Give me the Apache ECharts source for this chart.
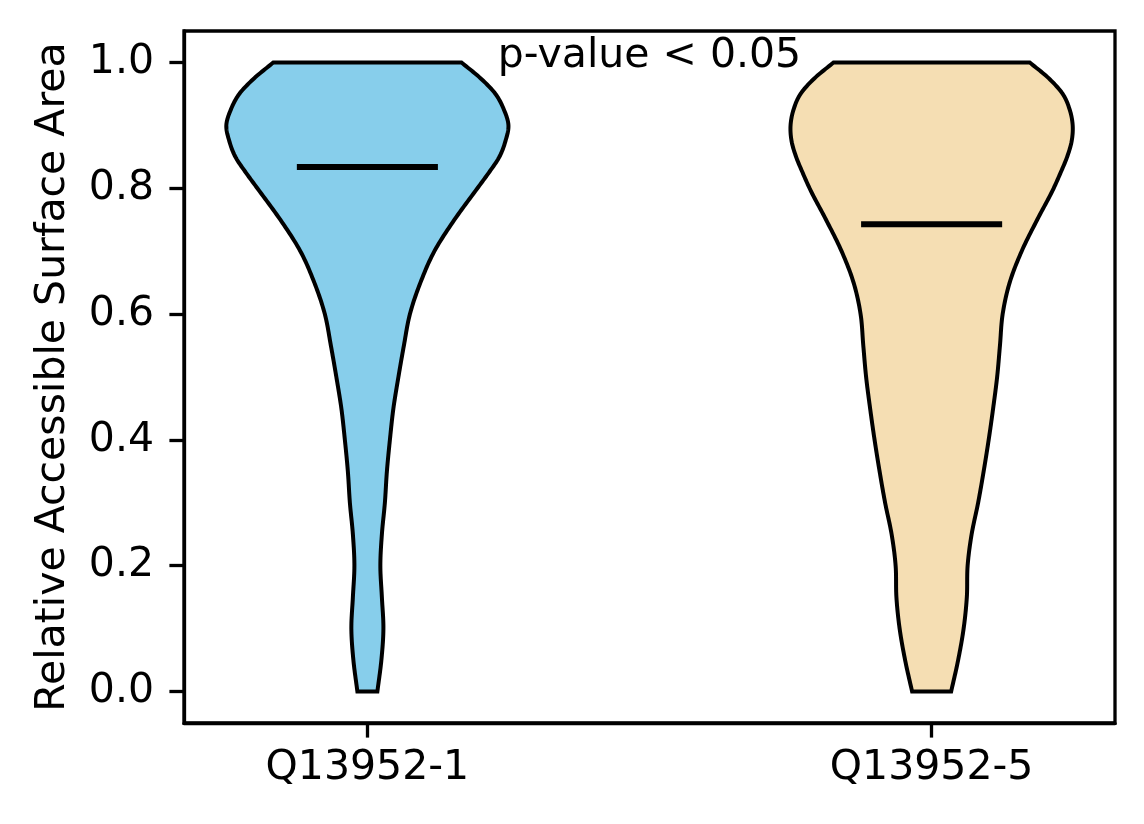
<!DOCTYPE html>
<html>
<head>
<meta charset="utf-8">
<script src="https://cdn.jsdelivr.net/npm/echarts@6/dist/echarts.min.js"></script>
<style>
  html, body { margin: 0; padding: 0; background: #ffffff; }
  #chart { width: 1144px; height: 824px; }
</style>
</head>
<body>
<div id="chart"></div>
<script>
// ---- data ----
const categories = ['Q13952-1', 'Q13952-5'];
const positions = [1, 2];
const yLevels = [0, 0.05, 0.1, 0.15, 0.2, 0.25, 0.3, 0.35, 0.4, 0.45, 0.5, 0.55, 0.6, 0.65,
                 0.7, 0.75, 0.8, 0.825, 0.85, 0.875, 0.9, 0.925, 0.95, 0.975, 1.0];
// half-widths of the violin (x-axis units) at each y level
const halfWidthQ1 = [0.0177, 0.0248, 0.0284, 0.0257, 0.0230, 0.0257, 0.0310, 0.0346, 0.0399,
                     0.0461, 0.0550, 0.0647, 0.0754, 0.0940, 0.1188, 0.1543, 0.1950, 0.2154,
                     0.2340, 0.2447, 0.2500, 0.2420, 0.2270, 0.2004, 0.1667];
const halfWidthQ5 = [0.0346, 0.0470, 0.0567, 0.0624, 0.0638, 0.0709, 0.0824, 0.0922, 0.1011,
                     0.1090, 0.1161, 0.1211, 0.1259, 0.1383, 0.1596, 0.1871, 0.2163, 0.2287,
                     0.2402, 0.2482, 0.2500, 0.2447, 0.2323, 0.2074, 0.1738];
const medians = [0.834, 0.743];
const yTicks = [0, 0.2, 0.4, 0.6, 0.8, 1.0];
const annotationText = 'p-value < 0.05';
const annotationPos = [1.5, 1.0];

const halfWidths = [halfWidthQ1, halfWidthQ5];
const fillColors = ['#87CEEB', '#F5DEB3'];
const FONT = 'DejaVu Sans';

// smooth outline: cubic Hermite of width as a function of y (rendering only)
function smoothProfile(ys, ws, seg) {
  const n = ys.length;
  const m = ws.map((w, k) => {
    if (k === 0) return (ws[1] - ws[0]) / (ys[1] - ys[0]);
    if (k === n - 1) return (ws[n - 1] - ws[n - 2]) / (ys[n - 1] - ys[n - 2]);
    const d0 = (ws[k] - ws[k - 1]) / (ys[k] - ys[k - 1]);
    const d1 = (ws[k + 1] - ws[k]) / (ys[k + 1] - ys[k]);
    const h0 = ys[k] - ys[k - 1], h1 = ys[k + 1] - ys[k];
    return (d0 * h1 + d1 * h0) / (h0 + h1);
  });
  const out = [];
  for (let k = 0; k < n - 1; k++) {
    const h = ys[k + 1] - ys[k];
    for (let s = 0; s < seg; s++) {
      const t = s / seg, t2 = t * t, t3 = t2 * t;
      const w = (2 * t3 - 3 * t2 + 1) * ws[k] + (t3 - 2 * t2 + t) * h * m[k] +
                (-2 * t3 + 3 * t2) * ws[k + 1] + (t3 - t2) * h * m[k + 1];
      out.push([ys[k] + t * h, w]);
    }
  }
  out.push([ys[n - 1], ws[n - 1]]);
  return out;
}

const chart = echarts.init(document.getElementById('chart'), null, { renderer: 'canvas' });

const option = {
  animation: false,
  backgroundColor: '#ffffff',
  grid: {
    left: 184, right: 29, top: 31, bottom: 101,
    show: true, borderColor: '#000', borderWidth: 3.3, backgroundColor: 'transparent'
  },
  xAxis: {
    type: 'value', min: 0.675, max: 2.325,
    splitLine: { show: false },
    axisLine: { show: true, onZero: false, lineStyle: { color: '#000', width: 3.3 } },
    axisTick: { show: true, length: 14.6, lineStyle: { color: '#000', width: 3.3 }, customValues: positions },
    axisLabel: {
      customValues: positions, margin: 25, color: '#000', fontFamily: FONT, fontSize: 41,
      formatter: v => categories[Math.round(v) - 1] || ''
    }
  },
  yAxis: {
    type: 'value', min: -0.05, max: 1.05,
    name: 'Relative Accessible Surface Area', nameLocation: 'middle', nameGap: 110,
    nameTextStyle: { color: '#000', fontFamily: FONT, fontSize: 41 },
    splitLine: { show: false },
    axisLine: { show: true, onZero: false, lineStyle: { color: '#000', width: 3.3 } },
    axisTick: { show: true, length: 14.6, lineStyle: { color: '#000', width: 3.3 }, customValues: yTicks },
    axisLabel: {
      customValues: yTicks, margin: 30, color: '#000', fontFamily: FONT, fontSize: 41,
      formatter: v => v.toFixed(1)
    }
  },
  series: [
    {
      type: 'custom',
      data: positions.map((p, i) => [p, medians[i], i]),
      renderItem: function (params, api) {
        const pos = api.value(0);
        const med = api.value(1);
        const idx = api.value(2);
        const prof = smoothProfile(yLevels, halfWidths[idx], 12);
        const right = prof.map(([y, w]) => api.coord([pos + w, y]));
        const left = prof.map(([y, w]) => api.coord([pos - w, y])).reverse();
        const poly = right.concat(left);
        const m1 = api.coord([pos - 0.125, med]);
        const m2 = api.coord([pos + 0.125, med]);
        return {
          type: 'group',
          children: [
            {
              type: 'polygon',
              shape: { points: poly },
              style: { fill: fillColors[idx], stroke: '#000', lineWidth: 4, lineJoin: 'miter' }
            },
            {
              type: 'line',
              shape: { x1: m1[0], y1: m1[1], x2: m2[0], y2: m2[1] },
              style: { stroke: '#000', lineWidth: 6 }
            }
          ]
        };
      }
    },
    {
      type: 'custom',
      data: [annotationPos],
      renderItem: function (params, api) {
        const c = api.coord([api.value(0), api.value(1)]);
        return {
          type: 'text',
          x: c[0], y: c[1] - 6,
          style: {
            text: annotationText, fill: '#000', font: '41px "DejaVu Sans"',
            align: 'center', verticalAlign: 'middle'
          }
        };
      }
    }
  ]
};
chart.setOption(option);
</script>
</body>
</html>
